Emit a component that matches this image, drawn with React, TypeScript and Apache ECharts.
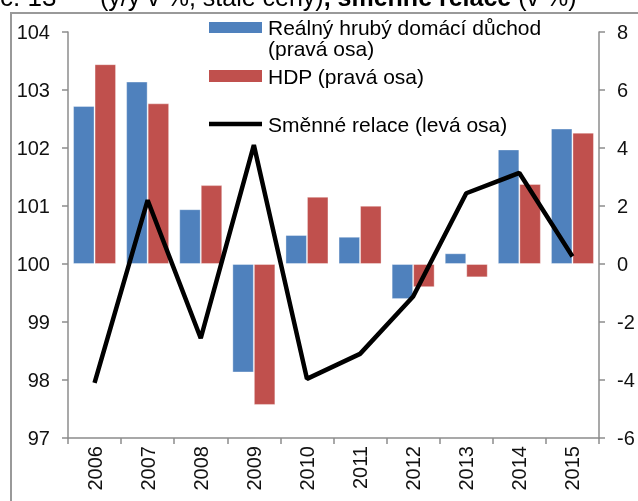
import React, { useEffect, useRef } from "react";
import * as echarts from "echarts";

const years = ["2006", "2007", "2008", "2009", "2010", "2011", "2012", "2013", "2014", "2015"];
const hdd = [5.45, 6.29, 1.89, -3.74, 1.0, 0.94, -1.21, 0.37, 3.95, 4.67];
const hdp = [6.89, 5.54, 2.72, -4.86, 2.32, 2.01, -0.8, -0.46, 2.76, 4.53];
const terms = [97.95, 101.1, 98.72, 102.05, 98.02, 98.45, 99.44, 101.22, 101.57, 100.13];
const seriesNames = ["Reálný hrubý domácí důchod\n(pravá osa)", "HDP (pravá osa)", "Směnné relace (levá osa)"];
const colors = ["#4F81BD", "#C0504D", "#000000"];

const FONT = "Arial, 'Liberation Sans', sans-serif";

export default function App() {
  const ref = useRef<HTMLDivElement>(null);
  useEffect(() => {
    document.body.style.margin = "0";
    const chart = echarts.init(ref.current!, null, { renderer: "svg" });
    const axisLine = { show: true, onZero: false, lineStyle: { color: "#8c8c8c", width: 1.5 } };
    const axisTick = { show: true, inside: false, length: 6, lineStyle: { color: "#8c8c8c", width: 1.5 } };
    const label = { color: "#111", fontSize: 20, fontFamily: FONT };
    const legendLines = seriesNames[0].split("\n");
    const lg = { fontSize: 21, fontFamily: FONT, fill: "#000", verticalAlign: "middle" };
    chart.setOption({
      animation: false,
      textStyle: { fontFamily: FONT },
      grid: { left: 68, right: 39, top: 32, bottom: 63, containLabel: false },
      xAxis: {
        type: "category",
        data: years,
        boundaryGap: true,
        axisLine,
        axisTick: { ...axisTick, interval: 0, alignWithLabel: false },
        axisLabel: { ...label, rotate: 90, margin: 8, interval: 0 },
        splitLine: { show: false },
      },
      yAxis: [
        {
          type: "value",
          min: 97,
          max: 104,
          interval: 1,
          position: "left",
          axisLine,
          axisTick,
          axisLabel: { ...label, margin: 18 },
          splitLine: { show: false },
        },
        {
          type: "value",
          min: -6,
          max: 8,
          interval: 2,
          position: "right",
          axisLine,
          axisTick,
          axisLabel: { ...label, margin: 18 },
          splitLine: { show: false },
        },
      ],
      series: [
        {
          name: seriesNames[0],
          type: "bar",
          yAxisIndex: 1,
          data: hdd,
          barGap: "0%",
          barCategoryGap: "19%",
          itemStyle: { color: colors[0], borderColor: "rgba(255,255,255,0.35)", borderWidth: 1 },
        },
        {
          name: seriesNames[1],
          type: "bar",
          yAxisIndex: 1,
          data: hdp,
          itemStyle: { color: colors[1], borderColor: "rgba(255,255,255,0.35)", borderWidth: 1 },
        },
        {
          name: seriesNames[2],
          type: "line",
          yAxisIndex: 0,
          data: terms,
          symbol: "none",
          lineStyle: { color: colors[2], width: 4.5 },
          z: 5,
        },
      ],
      graphic: [
        {
          type: "polyline",
          shape: { points: [[11, 501], [11, 13], [638, 13]] },
          style: { stroke: "#999", lineWidth: 2, fill: "none" },
          silent: true,
        },
        {
          type: "text",
          x: 0,
          y: -3,
          style: {
            text: "{n|č. 13}",
            rich: { n: { fontSize: 26, fontFamily: FONT, fill: "#000" } },
            verticalAlign: "middle",
          },
        },
        {
          type: "text",
          x: 100,
          y: -3,
          style: {
            text: "{n|(y/y v %, stálé ceny)}{b|, směnné relace }{n|(v %)}",
            rich: {
              n: { fontSize: 25, fontFamily: FONT, fill: "#000" },
              b: { fontSize: 25, fontFamily: FONT, fontWeight: "bold", fill: "#000" },
            },
            verticalAlign: "middle",
          },
        },
        { type: "rect", shape: { x: 209, y: 22, width: 53, height: 11 }, style: { fill: colors[0] }, z: 10 },
        { type: "text", x: 268, y: 27, z: 10, style: { text: legendLines[0], ...lg } },
        { type: "text", x: 268, y: 48, z: 10, style: { text: legendLines[1], ...lg } },
        { type: "rect", shape: { x: 209, y: 70, width: 53, height: 12 }, style: { fill: colors[1] }, z: 10 },
        { type: "text", x: 268, y: 76, z: 10, style: { text: seriesNames[1], ...lg } },
        {
          type: "line", shape: { x1: 209, y1: 124, x2: 262, y2: 124 }, z: 10,
          style: { stroke: colors[2], lineWidth: 4.5 },
        },
        { type: "text", x: 268, y: 124, z: 10, style: { text: seriesNames[2], ...lg } },
      ],
    });
    return () => chart.dispose();
  }, []);
  return <div ref={ref} style={{ position: "fixed", left: 0, top: 0, width: 638, height: 501 }} />;
}
